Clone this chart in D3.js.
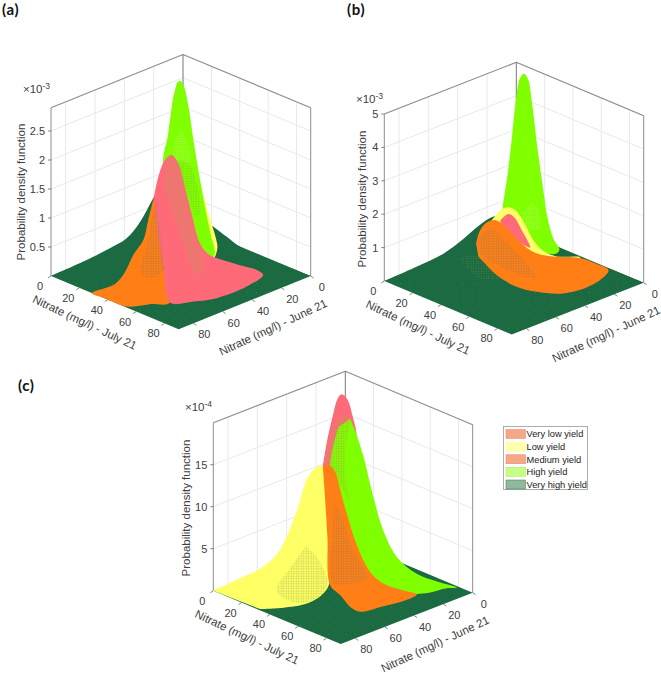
<!DOCTYPE html>
<html><head><meta charset="utf-8">
<script src="https://cdn.jsdelivr.net/npm/d3@7"></script>
<style>html,body{margin:0;background:#fff}svg{display:block}text{font-family:"Liberation Sans",Arial,sans-serif}</style>
</head><body><svg id="c" width="661" height="673"></svg>
<script>
// Outlines of the visible parts of each density surface: [July nitrate, June nitrate, pdf]
const julyTicks=[0,20,40,60,80], juneTicks=[0,20,40,60,80];
const zTicksA=[0.5,1,1.5,2,2.5], zTicksB=[1,2,3,4,5], zTicksC=[5,10,15];
const legendNames=["Very low yield","Low yield","Medium yield","High yield","Very high yield"];

// panel (a), pdf x 10^-3
const aVeryHigh=[[0,90,0],[11.2,78.8,.248],[20.4,69.6,.478],[26.2,63.8,.65],[30.9,59.1,.936],[35.7,54.3,1.368],[43.6,46.4,2],[54,36,.936],[56.3,33.7,.85],[60.9,29.1,.678],[65.5,24.5,.506],[74.7,15.3,.304],[90,0,0]];
const aLow=[[35.2,24.8,1.58],[39.3,20.7,.776],[41.9,18.1,.344],[42.4,17.6,.172],[41,19,0],[36.4,23.6,.2],[31.8,28.2,1.006]];
const aHigh=[[28.3,31.7,3.018],[29.5,30.5,3.058],[30.9,29.1,2.948],[32.4,27.6,2.614],[34.1,25.9,2.04],[36,24,1.466],[38.1,21.9,.89],[40,20,.432],[41.5,18.5,.086],[40.4,19.6,0],[38.1,21.9,.058],[35.2,24.8,.316],[29.5,30.5,1.006],[23.7,36.4,1.58],[25.4,34.6,2.156],[26.9,33.1,2.73]];
const aHighPatch=[[30,30,2.212],[32.4,27.6,1.926],[32.9,27.1,1.638],[27.1,32.8,1.696],[27.7,32.3,2.04]];
const aHighShade=[[28.3,31.7,1.695],[32.4,27.6,1.638],[36.4,23.6,.776],[34.7,25.4,.718]];
const aMedium=[[35.7,54.3,1.368],[33.7,56.3,.966],[32,58,.62],[28.5,61.5,.362],[25.7,64.3,.075],[29,74.4,0],[29,90,0],[36,90,0],[44,90,0],[52.4,89.2,0],[58.5,79.1,0],[64,70.8,0],[38.9,51.1,.16],[37.7,52.2,.85]];
const aVeryLow=[[35.7,54.3,1.368],[37.2,52.8,1.712],[39.5,50.5,2],[41.8,48.2,2.086],[44.1,45.9,1.942],[46.4,43.6,1.54],[48.7,41.3,1.08],[51.6,38.4,.564],[54.5,35.5,.38],[63.2,26.8,.218],[71.8,18.2,.092],[72.6,15.6,0],[76.9,31,0],[76.5,51,0],[71.2,61.9,0],[64,70.8,0],[38.9,51.1,.16],[36.6,53.4,.85]];
const aMixUpper=[[40,50,1.942],[41.8,48.2,2.07],[43.6,46.4,1.988],[47,43,1.31],[50.4,39.6,.62],[52.7,37.3,.16],[50.4,39.6,0],[47,43,.39],[42.4,47.6,1.08],[38.9,51.1,1.54]];
const aMixLower=[[36,54,1.252],[38.4,51.6,.62],[37.6,52.4,.018],[31.4,58.6,.018],[33.7,56.3,.62]];

// panel (b), pdf x 10^-3
const bVeryHigh=[[0,90,0],[10,80,.39],[20.5,69.5,.83],[27.4,62.6,1.27],[33.2,56.8,1.7],[37.9,52.1,1.95],[44.8,45.2,1.95],[56.3,33.7,1.25],[68,22,.73],[78.4,11.6,.4],[90,0,0]];
const bHigh=[[30.9,39.1,1.9],[32.5,37.5,2.8],[34,36,3.9],[35.5,34.5,5.1],[36.9,33.1,5.75],[38.3,31.7,5.88],[39.7,30.3,5.72],[41.1,28.9,5],[42.9,27.1,3.7],[45,25,2.4],[46.4,23.6,1.6],[48.5,21.5,.95],[50.6,19.4,.62],[49.4,20.6,.5],[46.2,23.8,.5],[40.4,29.6,.5],[33.5,36.6,1]];
const bHighPatch=[[41,29,2.05],[43.7,26.4,1.8],[43.3,26.7,1.2],[39.3,30.8,1.3],[37.5,32.5,1.7]];
const bLow=[[36.7,53.3,1.77],[40.2,49.9,2.13],[43,47,2.23],[45.7,44.3,2.13],[48.9,41.2,1.73],[51.8,38.3,1.25],[55.2,34.8,.93],[59.8,30.2,.77],[68,22,.75],[62.2,27.9,.45],[50.6,39.4,.55],[39,51,1.25]];
const bVeryLow=[[40.2,49.9,1.83],[43,47,2.03],[45.2,44.9,1.93],[47.7,42.3,1.55],[50.6,39.4,1.03],[46,44,1.25],[41.3,48.7,1.65]];
const bMedium=[[31.9,58.2,1.15],[33.2,56.8,1.53],[35.5,54.5,1.77],[38.4,51.6,1.85],[40.8,49.3,1.75],[43.6,46.4,1.5],[47.7,42.3,1.15],[51.8,38.3,.9],[57.5,32.5,.77],[68,22,.73],[73.8,16.3,.55],[77.8,12.2,.37],[72.7,13,0],[74.5,28.4,0],[71,38.7,0],[61.5,45.4,0],[50.1,48.2,0],[39,51,.2],[33.8,56.2,.65],[32.7,57.4,.75]];
const bMixOrange=[[32.7,57.4,1.25],[36.7,53.3,1.6],[42.5,47.5,1.2],[49.4,40.6,.55],[52.9,37.1,.15],[46,44,.25],[37.9,52.2,.55],[33.2,56.8,.85]];
const bMixFloor=[[25.7,64.3,.7],[32.7,57.4,.75],[40.2,49.9,.1],[32.1,58,.1]];

// panel (c), pdf x 10^-4
const cVeryLow=[[38,52,14.9],[39.4,50.7,17.7],[41.7,48.4,21.2],[43.2,46.9,23],[44.6,45.5,23.5],[46.5,43.5,22.9],[48.4,41.6,20.8],[49.8,40.3,18.5],[47.5,42.6,12.1]];
const cHigh=[[47.5,42.6,20.6],[49.2,40.8,19.2],[52.1,37.9,16.1],[55.6,34.5,11.3],[59,31,7.3],[63.7,26.4,4.2],[70.6,19.4,2.2],[77.6,12.5,1.3],[84.5,5.5,.6],[81,9,.5],[75.3,14.8,0],[71.3,22.4,0],[64.4,33.9,0],[52.1,37.9,1],[45.2,45.1,8.5],[44,46,10.5],[40.5,49.5,14.5],[43.4,46.6,19.6]];
const cMixUpper=[[38.2,51.8,15],[40.3,49.7,18.1],[42.8,47.2,20.4],[45.7,44.3,20.9],[47.2,42.8,20.5],[46.1,44,17.7],[45.6,44.4,14.5],[46.9,43.1,10.9],[42.8,47.2,14.1]];
const cLow=[[0,90,0],[9.3,80.8,1.5],[17.3,72.7,2.9],[22.5,67.5,4.6],[26,64,6.9],[29.5,60.5,10.1],[32.7,57.4,13.5],[35.9,54.1,14.8],[38,52,14.9],[39.4,50.7,10.5],[40.3,49.7,1],[41.3,57.1,0],[42.8,69.9,0],[38.7,79.6,0],[32,89,0]];
const cMixLow=[[32.2,57.9,5.4],[36.5,53.6,3.8],[39.6,50.4,1],[41.9,59.9,0],[39,70.8,0],[22,68,0],[25.5,64.6,2.2]];
const cMedium=[[38,52,14.9],[40,50.1,15.1],[42.3,47.8,14.3],[44.2,45.8,11.9],[46.3,43.7,9.3],[49.8,40.3,5.6],[54.4,35.6,2.4],[59,31,1],[66,24.1,.2],[72.5,21.2,0],[73.7,31.5,0],[71.4,42.9,0],[68.3,55.8,0],[62.5,55.8,0],[46.8,48.7,0],[40.5,49.5,.8],[39.6,50.4,6.5],[38.9,51.1,10.5]];
const cMixMedium=[[41.9,48.1,10.5],[44.2,45.8,9.3],[48,42,5.4],[53.3,36.8,1.6],[47.5,42.6,1],[41.7,48.4,1],[41.1,48.9,5.8]];

const YELLOW="#ffff66",PINK="#ff6b78",ORANGE="#ff7f18",LIME="#80ff00",DARK="#1a6b42";
const svg=d3.select("#c"), defs=svg.append("defs");
defs.append("filter").attr("id","soft").append("feGaussianBlur").attr("stdDeviation",0.4);
function dots(id,color,size,r,op){
  const p=defs.append("pattern").attr("id",id).attr("width",size).attr("height",size).attr("patternUnits","userSpaceOnUse");
  p.append("circle").attr("cx",size/2).attr("cy",size/2).attr("r",r).attr("fill",color).attr("fill-opacity",op);
}
dots("floorDots","#4f8f6c",9,0.5,0.6);
dots("brown","#a5763a",2.5,0.8,0.7);
dots("olive","#a8a048",2.5,0.8,0.65);
dots("paleLime","#b7ff5a",2.5,0.8,0.7);
dots("limeShade","#7ab828",2.5,0.8,0.6);
dots("yellowGreen","#b4c050",2.5,0.8,0.8);
dots("greyish","#8a8a45",2.5,0.6,0.5);

const panels=[
 {bk:[183,222.7],l:[51,276],r:[310.7,276],zmax:2.9,zpx:58,zt:zTicksA,exp:"-3",expPos:[23,93],zlab:[21,192],
  layers:[[aVeryHigh,DARK],[aLow,YELLOW],[aHigh,LIME],[aHighPatch,"url(#paleLime)"],[aHighShade,"url(#limeShade)"],[aMedium,ORANGE],[aVeryLow,PINK],[aMixUpper,"url(#olive)"],[aMixLower,"url(#brown)"]]},
 {bk:[516.3,229.3],l:[384.3,281],r:[643.7,282.7],zmax:5,zpx:33.4,zt:zTicksB,exp:"-3",expPos:[356,103],zlab:[362,199],
  layers:[[bVeryHigh,DARK],[bHigh,LIME],[bHighPatch,"url(#paleLime)"],[bLow,YELLOW],[bVeryLow,PINK],[bMixFloor,"url(#greyish)"],[bMedium,ORANGE],[bMixOrange,"url(#brown)"]]},
 {bk:[345.3,539.3],l:[213.3,590.7],r:[472.7,592.7],zmax:20,zpx:8.4,zt:zTicksC,exp:"-4",expPos:[185,411],zlab:[186,508],
  layers:[[cVeryLow,PINK],[cHigh,LIME],[cMixUpper,"url(#olive)"],[cLow,YELLOW],[cMixLow,"url(#yellowGreen)"],[cMedium,ORANGE],[cMixMedium,"url(#brown)"]]}
];

const MAX=90, GRID="#e9e9e9", EDGE="#8c8c8c", TXT="#404040";
panels.forEach(p=>{
  const jx=d3.scaleLinear([0,MAX],[0,p.r[0]-p.bk[0]]), nx=d3.scaleLinear([0,MAX],[0,p.l[0]-p.bk[0]]);
  const jy=d3.scaleLinear([0,MAX],[0,p.r[1]-p.bk[1]]), ny=d3.scaleLinear([0,MAX],[0,p.l[1]-p.bk[1]]);
  const zy=d3.scaleLinear([0,p.zmax],[0,p.zmax*p.zpx]);
  const X=(j,n)=>p.bk[0]+jx(j)+nx(n), Y=(j,n,z)=>p.bk[1]+jy(j)+ny(n)-zy(z);
  const P=(j,n,z)=>[X(j,n),Y(j,n,z)];
  const g=svg.append("g");
  const seg=(a,b,c,w)=>g.append("line").attr("x1",a[0]).attr("y1",a[1]).attr("x2",b[0]).attr("y2",b[1]).attr("stroke",c).attr("stroke-width",w);
  // walls grid
  julyTicks.slice(1).forEach(t=>seg(P(t,0,0),P(t,0,p.zmax),GRID,1));
  juneTicks.slice(1).forEach(t=>seg(P(0,t,0),P(0,t,p.zmax),GRID,1));
  p.zt.forEach(t=>{seg(P(0,0,t),P(MAX,0,t),GRID,1);seg(P(0,0,t),P(0,MAX,t),GRID,1);});
  // box
  seg(P(0,MAX,p.zmax),P(0,0,p.zmax),EDGE,1.1);
  seg(P(0,0,p.zmax),P(MAX,0,p.zmax),EDGE,1.1);
  seg(P(0,0,0),P(0,0,p.zmax),"#777",1);
  seg(P(0,MAX,0),P(0,MAX,p.zmax),EDGE,1);
  seg(P(MAX,0,0),P(MAX,0,p.zmax),EDGE,1);
  // surfaces
  const s=g.append("g").attr("filter","url(#soft)");
  const floor=[[0,0],[MAX,0],[MAX,MAX],[0,MAX]].map(d=>P(d[0],d[1],0));
  s.append("path").attr("d","M"+floor.join("L")+"Z").attr("fill",DARK);
  s.append("path").attr("d","M"+floor.join("L")+"Z").attr("fill","url(#floorDots)");
  const line=d3.line().x(d=>X(d[0],d[1])).y(d=>Y(d[0],d[1],d[2])).curve(d3.curveCatmullRom.alpha(0.5));
  s.selectAll(null).data(p.layers).join("path").attr("d",d=>line(d[0])+"Z").attr("fill",d=>d[1]);
  // axes
  julyTicks.forEach(t=>{
    const a=P(t,MAX,0); seg(a,[a[0]-3,a[1]+2],"#666",0.8);
    g.append("text").attr("x",a[0]-11).attr("y",a[1]+14).attr("text-anchor","middle").attr("font-size",11).attr("fill",TXT).text(t);
  });
  juneTicks.forEach(t=>{
    const a=P(MAX,t,0); seg(a,[a[0]+3,a[1]+2],"#666",0.8);
    g.append("text").attr("x",a[0]+11).attr("y",a[1]+15).attr("text-anchor","middle").attr("font-size",11).attr("fill",TXT).text(t);
  });
  p.zt.forEach(t=>{
    const a=P(0,MAX,t); seg(a,[a[0]-3,a[1]],"#666",0.8);
    g.append("text").attr("x",a[0]-6).attr("y",a[1]+4).attr("text-anchor","end").attr("font-size",11).attr("fill",TXT).text(t);
  });
  const lab=(x,y,rot,t)=>g.append("text").attr("transform",`translate(${x},${y}) rotate(${rot})`).attr("text-anchor","middle").attr("font-size",11.5).attr("fill",TXT).text(t);
  lab(p.l[0]+32,p.l[1]+50,25,"Nitrate (mg/l) - July 21");
  lab(p.r[0]-36,p.r[1]+55,-25,"Nitrate (mg/l) - June 21");
  lab(p.zlab[0]+4,p.zlab[1],-90,"Probability density function");
  const e=g.append("text").attr("x",p.expPos[0]).attr("y",p.expPos[1]).attr("font-size",11.5).attr("fill",TXT);
  e.append("tspan").text("×10");
  e.append("tspan").attr("dy",-4).attr("font-size",8.5).text(p.exp);
});

// panel letters
[["(a)",2,15],["(b)",347,15],["(c)",18,391]].forEach(d=>svg.append("text").attr("x",d[1]).attr("y",d[2]).attr("font-size",15).attr("letter-spacing",0.6).attr("font-weight",700).style("font-family","Lato").attr("fill","#111").text(d[0]));

// legend
const swatch=["#f4a88a","#ffffb0","#f4a88a","#c4ff88","#8fb89c"], swDot=["#f08060","#ffff80","#f08060","#9fef40","#3d7a55"];
const lg=svg.append("g");
lg.append("rect").attr("x",503.5).attr("y",426.5).attr("width",84).attr("height",63).attr("fill","#fff").attr("stroke","#999").attr("stroke-width",0.8);
const rowY=d3.scalePoint(d3.range(legendNames.length),[434,484.5]);
legendNames.forEach((t,i)=>{
  lg.append("rect").attr("x",506).attr("y",rowY(i)-4.5).attr("width",19.5).attr("height",9).attr("fill",swatch[i]).attr("stroke",swDot[i]).attr("stroke-width",0.5);
  lg.append("text").attr("x",526.5).attr("y",rowY(i)+3.3).attr("font-size",9.3).attr("fill","#222").text(t);
});
</script></body></html>
